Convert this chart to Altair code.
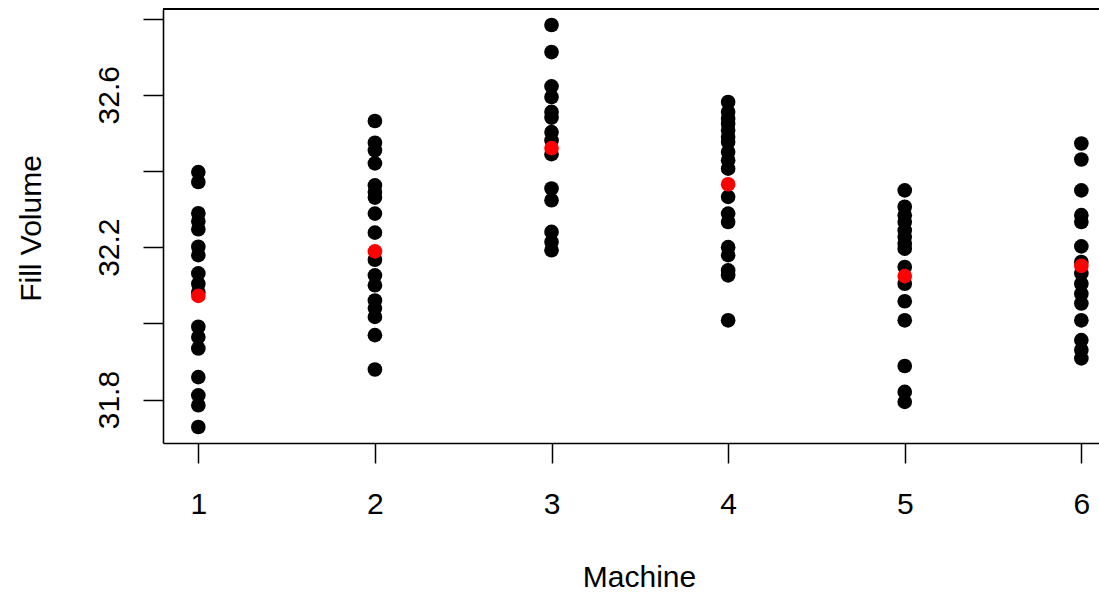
import altair as alt
import pandas as pd

# Fill volumes recorded on each of six filling machines
machine_1 = [32.397, 32.371, 32.289, 32.268, 32.247, 32.201, 32.179, 32.131, 32.104,
             32.082, 31.991, 31.964, 31.934, 31.859, 31.811, 31.785, 31.728]
machine_2 = [32.531, 32.474, 32.454, 32.420, 32.362, 32.345, 32.330, 32.288, 32.238,
             32.167, 32.126, 32.100, 32.060, 32.040, 32.017, 31.969, 31.879]
machine_3 = [32.783, 32.712, 32.622, 32.594, 32.555, 32.540, 32.502, 32.480, 32.444,
             32.354, 32.323, 32.240, 32.214, 32.192]
machine_4 = [32.581, 32.555, 32.537, 32.524, 32.507, 32.489, 32.476, 32.450, 32.428,
             32.406, 32.332, 32.288, 32.266, 32.200, 32.179, 32.139, 32.126, 32.008]
machine_5 = [32.349, 32.306, 32.284, 32.266, 32.244, 32.227, 32.209, 32.196, 32.148,
             32.104, 32.058, 32.008, 31.888, 31.820, 31.794]
machine_6 = [32.472, 32.430, 32.349, 32.284, 32.266, 32.202, 32.161, 32.131, 32.104,
             32.078, 32.052, 32.008, 31.956, 31.930, 31.908]

# Mean fill volume per machine
machines = [1, 2, 3, 4, 5, 6]
machine_means = [32.072, 32.189, 32.460, 32.365, 32.124, 32.151]

y_ticks = [31.8, 32.0, 32.2, 32.4, 32.6, 32.8]
y_labelled = ["31.8", "32.2", "32.6"]

groups = [machine_1, machine_2, machine_3, machine_4, machine_5, machine_6]
obs = pd.DataFrame(
    [{"Machine": m, "Volume": v} for m, vals in zip(machines, groups) for v in vals]
)
means = pd.DataFrame({"Machine": machines, "Volume": machine_means})

W, H = 936, 434
FONT = "Liberation Sans"
DOT = 215

x_scale = alt.Scale(domain=[0.8, 6.1], nice=False, zero=False)
y_scale = alt.Scale(domain=[31.686, 32.825], nice=False, zero=False)

x_axis = alt.Axis(
    values=machines, format="d", labelAngle=0, tickSize=20, labelPadding=26,
    labelBaseline="top", title="Machine", titleX=476, titleY=143,
    titleBaseline="alphabetic", titleAlign="center",
)
y_axis = alt.Axis(
    values=y_ticks, format=".1f", tickSize=20, labelPadding=25, labelAngle=270,
    labelAlign="center", labelBaseline="alphabetic",
    labelExpr="indexof(" + str(y_labelled) + ", datum.label) >= 0 ? datum.label : ''",
    title="Fill Volume", titleAngle=270, titleX=-123, titleY=219,
    titleBaseline="alphabetic", titleAlign="center",
)

points = alt.Chart(obs).mark_circle(size=DOT, color="black", opacity=1).encode(
    x=alt.X("Machine:Q", scale=x_scale, axis=x_axis),
    y=alt.Y("Volume:Q", scale=y_scale, axis=y_axis),
)

mean_points = alt.Chart(means).mark_circle(size=DOT, color="#FF0000", opacity=1).encode(
    x=alt.X("Machine:Q", scale=x_scale),
    y=alt.Y("Volume:Q", scale=y_scale),
)

# Upper edge of the plot frame
top_edge = alt.Chart(means).mark_rule(color="black", strokeWidth=1.6).encode(
    x=alt.value(0), x2=alt.value(W), y=alt.value(0)
)

chart = (
    alt.layer(points, mean_points, top_edge)
    .properties(
        width=W, height=H,
        padding={"left": 163, "top": 9, "right": 0, "bottom": 150},
        autosize=alt.AutoSizeParams(type="none"),
        background="white",
    )
    .configure_view(stroke=None)
    .configure_axis(
        grid=False, domainColor="black", domainWidth=1.6, tickColor="black",
        tickWidth=1.5, labelFont=FONT, labelFontSize=30, labelColor="black",
        titleFont=FONT, titleFontSize=30, titleColor="black", titleFontWeight="normal",
        labelOverlap=False, labelFlush=False,
    )
)

chart.save("out.html", embed_options={"renderer": "svg", "actions": False})
